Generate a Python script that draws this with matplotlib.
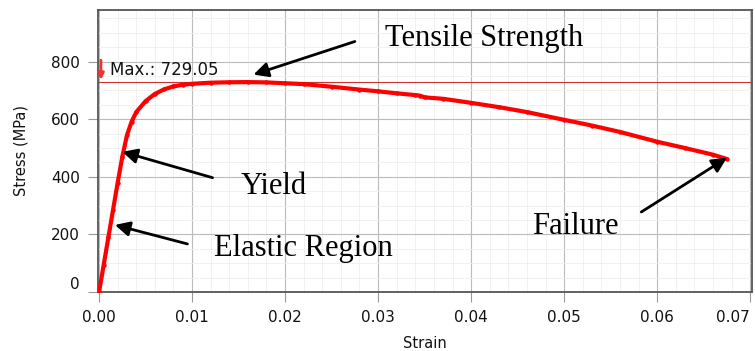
import numpy as np
import matplotlib.pyplot as plt
from matplotlib.ticker import MultipleLocator

# tensile test curve
strain = [0, 0.0005, 0.001, 0.0015, 0.002, 0.0025, 0.003, 0.0035, 0.004, 0.005,
          0.006, 0.007, 0.008, 0.009, 0.010, 0.012, 0.014, 0.016, 0.018, 0.020,
          0.022, 0.025, 0.028, 0.030, 0.032, 0.034, 0.0345, 0.035, 0.037, 0.040,
          0.043, 0.046, 0.050, 0.053, 0.056, 0.060, 0.063, 0.066, 0.0675]
stress = [0, 95, 190, 285, 380, 470, 545, 592, 625, 663,
          688, 704, 714, 720, 723, 727, 728.5, 729.05, 728, 725,
          722, 713, 703, 697, 690, 684, 682, 676, 671, 657,
          642, 625, 598, 578, 556, 522, 500, 477, 462]
max_stress = 729.05

xticks = [0.00, 0.01, 0.02, 0.03, 0.04, 0.05, 0.06, 0.07]
yticks = [0, 200, 400, 600, 800]

# label text, arrow tip, arrow tail
notes = [
    ("Tensile Strength", (0.0166, 755), (0.0275, 870)),
    ("Yield", (0.0025, 487), (0.0122, 397)),
    ("Elastic Region", (0.0017, 233), (0.0095, 167)),
    ("Failure", (0.0675, 466), (0.0583, 278)),
]
text_pos = {
    "Tensile Strength": (0.0307, 882),
    "Yield": (0.0152, 365),
    "Elastic Region": (0.0124, 150),
    "Failure": (0.0466, 228),
}

fig = plt.figure(figsize=(7.55, 3.51), dpi=100)
ax = fig.add_axes([0.130, 0.168, 0.866, 0.804])

ax.plot(strain, stress, color='#ff0000', lw=3, marker='o', ms=2.2,
        solid_capstyle='round', zorder=3)
ax.axhline(max_stress, color='#cc3333', lw=0.8, zorder=2)

ax.annotate('', xy=(0.0002, 737), xytext=(0.0002, 805),
            arrowprops=dict(arrowstyle='-|>', color='#ee3333', lw=2,
                            mutation_scale=9, shrinkA=0, shrinkB=0))
ax.text(0.0012, 772, 'Max.: 729.05', fontsize=12, va='center', ha='left',
        color='#111111')

for label, tip, tail in notes:
    ax.annotate('', xy=tip, xytext=tail,
                arrowprops=dict(arrowstyle='-|>', color='black', lw=2,
                                mutation_scale=22, shrinkA=0, shrinkB=0))
    tx, ty = text_pos[label]
    ax.text(tx, ty, label, fontsize=22, family='Liberation Serif',
            va='center', ha='left', color='black')

ax.set_xlim(-0.0001, 0.0702)
ax.set_ylim(0, 980)
ax.set_xticks(xticks)
ax.set_xticklabels([f'{t:.2f}' for t in xticks])
ax.set_yticks(yticks)
ax.xaxis.set_minor_locator(MultipleLocator(0.002))
ax.yaxis.set_minor_locator(MultipleLocator(50))

ax.grid(which='major', color='#bbbbbb', lw=0.8, zorder=0)
ax.grid(which='minor', color='#efefef', lw=0.6, zorder=0)
ax.set_axisbelow(True)

ax.tick_params(which='major', direction='out', length=7, color='#999999',
               labelsize=11, pad=6, labelcolor='#111111')
ax.tick_params(which='minor', length=0)
ax.get_xticklabels()[-1].set_ha('right')
ax.get_yticklabels()[0].set_va('bottom')
for s in ax.spines.values():
    s.set_color('#555555')
    s.set_linewidth(1.3)

ax.set_xlabel('Strain', fontsize=10.5, color='#111111', labelpad=8)
ax.set_ylabel('Stress (MPa)', fontsize=10.5, color='#111111', labelpad=16)

fig.savefig('out.png', dpi=100)
